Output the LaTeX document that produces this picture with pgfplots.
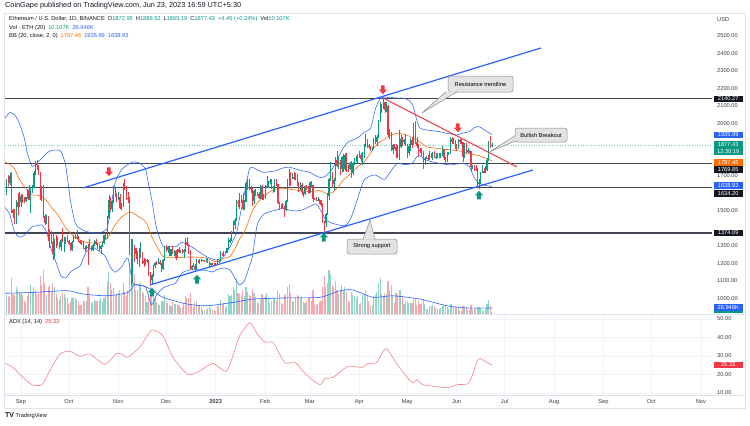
\documentclass[border=0pt]{standalone}
\usepackage{fontspec}
\setmainfont{Liberation Sans}
\usepackage{pgfplots}
\pgfplotsset{compat=1.18}
\usepackage{pgfplotstable}
\usepgfplotslibrary{fillbetween}

\definecolor{upc}{HTML}{089981}
\definecolor{dnc}{HTML}{F23645}
\definecolor{volup}{HTML}{92D3C8}
\definecolor{voldn}{HTML}{F9A6AD}
\definecolor{bbc}{HTML}{2962FF}
\definecolor{bbfill}{HTML}{2196F3}
\definecolor{orc}{HTML}{FF6D00}
\definecolor{chc}{HTML}{2962FF}
\definecolor{hlc}{HTML}{434651}
\definecolor{gridc}{HTML}{F0F3FA}
\definecolor{framec}{HTML}{E0E3EB}
\definecolor{txtc}{HTML}{131722}
\definecolor{labc}{HTML}{3B3E47}
\definecolor{adxc}{HTML}{F7838B}
\definecolor{boxfill}{HTML}{E3E3E3}
\definecolor{boxdraw}{HTML}{8C8C8C}
\definecolor{blk}{HTML}{131722}

\newcommand\tvf{\fontsize{5.7bp}{6.7bp}\selectfont}

% day 0 = 1 Sep 2022
\pgfplotstableread{
d o h l c v
-9 1625 1680 1590 1662 85
-8 1662 1705 1640 1657 80
-7 1657 1714 1650 1697 75
-6 1697 1720 1490 1507 160
-5 1507 1513 1460 1491 90
-4 1491 1510 1425 1432 85
-3 1432 1565 1425 1553 120
-2 1553 1605 1475 1523 110
-1 1523 1610 1520 1553 100
0 1553 1595 1525 1586 95
1 1586 1598 1543 1577 85
2 1577 1580 1545 1556 60
3 1556 1580 1550 1577 55
4 1577 1625 1570 1617 80
5 1617 1650 1560 1562 100
6 1562 1635 1490 1630 130
7 1630 1650 1605 1636 95
8 1636 1730 1630 1717 120
9 1717 1785 1705 1776 110
10 1776 1790 1735 1761 90
11 1761 1765 1705 1716 95
12 1716 1720 1560 1575 170
13 1575 1645 1555 1636 130
14 1636 1650 1460 1472 200
15 1472 1480 1420 1432 140
16 1432 1475 1425 1469 85
17 1469 1470 1330 1335 120
18 1335 1395 1290 1378 130
19 1378 1385 1310 1324 100
20 1324 1375 1220 1253 140
21 1253 1340 1230 1328 120
22 1328 1360 1290 1317 90
23 1317 1350 1300 1316 70
24 1316 1320 1280 1295 65
25 1295 1340 1270 1335 80
26 1335 1400 1320 1330 95
27 1330 1350 1265 1337 90
28 1337 1350 1310 1335 75
29 1335 1365 1320 1328 70
30 1328 1332 1305 1311 45
31 1311 1318 1270 1276 55
32 1276 1330 1270 1323 70
33 1323 1365 1320 1362 75
34 1362 1378 1340 1351 70
35 1351 1390 1340 1352 65
36 1352 1358 1320 1330 60
37 1330 1335 1310 1316 40
38 1316 1330 1305 1322 40
39 1322 1330 1285 1291 60
40 1291 1300 1265 1280 60
41 1280 1305 1275 1296 60
42 1296 1310 1190 1288 120
43 1288 1340 1280 1297 85
44 1297 1300 1270 1274 50
45 1274 1310 1270 1307 55
46 1307 1335 1300 1331 65
47 1331 1340 1305 1310 60
48 1310 1315 1280 1286 60
49 1286 1310 1270 1283 60
50 1283 1305 1255 1299 70
51 1299 1320 1295 1315 55
52 1315 1365 1310 1363 70
53 1363 1370 1335 1344 80
54 1344 1470 1340 1460 150
55 1460 1590 1455 1565 190
56 1565 1580 1500 1513 140
57 1513 1560 1495 1555 110
58 1555 1640 1545 1619 115
59 1619 1630 1580 1588 85
60 1588 1600 1550 1572 90
61 1572 1610 1565 1578 95
62 1578 1595 1510 1519 110
63 1519 1545 1505 1531 85
64 1531 1660 1525 1645 140
65 1645 1680 1620 1627 100
66 1627 1640 1565 1573 85
67 1573 1610 1545 1568 110
68 1568 1580 1250 1334 230
69 1334 1340 1073 1100 290
70 1100 1340 1090 1299 240
71 1299 1305 1210 1287 180
72 1287 1290 1225 1256 110
73 1256 1270 1195 1221 110
74 1221 1290 1180 1244 140
75 1244 1325 1230 1252 130
76 1252 1265 1195 1216 100
77 1216 1230 1180 1201 95
78 1201 1225 1190 1212 80
79 1212 1225 1200 1218 55
80 1218 1220 1130 1142 90
81 1142 1150 1075 1107 120
82 1107 1138 1085 1135 100
83 1135 1190 1125 1184 85
84 1184 1210 1175 1205 70
85 1205 1215 1190 1200 55
86 1200 1230 1195 1206 45
87 1206 1220 1190 1196 40
88 1196 1200 1150 1168 60
89 1168 1225 1165 1217 60
90 1217 1300 1215 1295 85
91 1295 1305 1265 1275 60
92 1275 1300 1262 1295 50
93 1295 1300 1240 1242 40
94 1242 1285 1240 1280 35
95 1280 1300 1255 1260 55
96 1260 1275 1245 1271 45
97 1271 1275 1220 1232 45
98 1232 1285 1230 1281 45
99 1281 1295 1260 1264 40
100 1264 1275 1260 1265 25
101 1265 1285 1255 1263 30
102 1263 1280 1230 1275 50
103 1275 1345 1265 1320 80
104 1320 1352 1300 1307 70
105 1307 1310 1255 1266 70
106 1266 1275 1160 1167 95
107 1167 1190 1160 1187 45
108 1187 1200 1180 1186 30
109 1186 1195 1150 1167 55
110 1167 1225 1160 1217 60
111 1217 1220 1200 1210 40
112 1210 1225 1195 1218 35
113 1218 1225 1210 1219 30
114 1219 1222 1214 1220 18
115 1220 1222 1210 1218 18
116 1218 1230 1210 1226 20
117 1226 1230 1205 1212 25
118 1212 1215 1180 1189 30
119 1189 1205 1185 1200 25
120 1200 1203 1190 1199 20
121 1199 1203 1190 1196 18
122 1196 1202 1190 1200 15
123 1200 1223 1190 1214 35
124 1214 1220 1205 1213 35
125 1213 1270 1210 1256 65
126 1256 1262 1245 1251 45
127 1251 1272 1240 1269 50
128 1269 1270 1260 1264 25
129 1264 1290 1262 1288 35
130 1288 1345 1285 1320 90
131 1320 1345 1315 1336 80
132 1336 1385 1330 1384 85
133 1384 1440 1380 1417 120
134 1417 1460 1395 1451 110
135 1451 1565 1445 1551 160
136 1551 1560 1520 1550 95
137 1550 1600 1510 1577 90
138 1577 1590 1545 1565 85
139 1565 1605 1505 1513 110
140 1513 1560 1505 1553 80
141 1553 1665 1550 1662 120
142 1662 1680 1620 1628 100
143 1628 1680 1620 1632 85
144 1632 1640 1600 1629 80
145 1629 1630 1530 1556 110
146 1556 1620 1540 1613 95
147 1613 1625 1585 1603 75
148 1603 1610 1585 1598 55
149 1598 1610 1570 1573 50
150 1573 1650 1570 1644 65
151 1644 1650 1560 1567 90
152 1567 1595 1560 1586 70
153 1586 1650 1570 1641 85
154 1641 1700 1630 1643 95
155 1643 1670 1630 1665 70
156 1665 1680 1655 1671 50
157 1671 1680 1625 1631 60
158 1631 1640 1605 1615 65
159 1615 1680 1610 1673 70
160 1673 1680 1640 1651 60
161 1651 1655 1540 1544 110
162 1544 1550 1505 1514 95
163 1514 1540 1510 1539 50
164 1539 1545 1510 1515 45
165 1515 1530 1465 1506 85
166 1506 1565 1500 1556 90
167 1556 1680 1550 1674 120
168 1674 1742 1640 1694 135
169 1694 1725 1640 1690 95
170 1690 1715 1680 1691 60
171 1691 1720 1675 1681 55
172 1681 1715 1675 1702 75
173 1702 1710 1645 1659 85
174 1659 1665 1610 1642 80
175 1642 1665 1620 1650 70
176 1650 1660 1590 1608 80
177 1608 1610 1580 1595 55
178 1595 1645 1590 1640 50
179 1640 1650 1620 1634 60
180 1634 1645 1595 1605 70
181 1605 1665 1600 1663 75
182 1663 1670 1630 1647 60
183 1647 1650 1550 1568 110
184 1568 1575 1560 1566 45
185 1566 1580 1555 1564 40
186 1564 1580 1555 1565 45
187 1565 1570 1540 1562 55
188 1562 1565 1525 1533 60
189 1533 1545 1430 1438 120
190 1438 1445 1370 1429 170
191 1429 1490 1410 1480 120
192 1480 1600 1475 1586 140
193 1586 1690 1560 1681 200
194 1681 1780 1670 1706 180
195 1706 1720 1630 1656 130
196 1656 1690 1620 1677 120
197 1677 1810 1670 1791 150
198 1791 1840 1750 1758 110
199 1758 1810 1740 1780 90
200 1780 1790 1705 1737 110
201 1737 1815 1720 1807 130
202 1807 1825 1720 1738 110
203 1738 1830 1730 1818 120
204 1818 1830 1725 1751 100
205 1751 1760 1725 1742 60
206 1742 1780 1735 1775 55
207 1775 1785 1690 1714 100
208 1714 1780 1705 1773 85
209 1773 1800 1760 1793 80
210 1793 1815 1780 1795 70
211 1795 1825 1775 1822 80
212 1822 1840 1805 1821 45
213 1821 1830 1780 1794 50
214 1794 1835 1760 1810 85
215 1810 1880 1805 1870 85
216 1870 1940 1865 1907 110
217 1907 1910 1860 1872 80
218 1872 1880 1855 1864 60
219 1864 1870 1845 1850 35
220 1850 1865 1840 1858 40
221 1858 1915 1855 1909 80
222 1909 1935 1880 1892 85
223 1892 1935 1870 1920 100
224 1920 2020 1915 2011 140
225 2011 2120 2010 2099 160
226 2099 2110 2060 2092 90
227 2092 2140 2085 2123 80
228 2123 2125 2060 2075 95
229 2075 2120 2065 2100 90
230 2100 2105 1920 1936 150
231 1936 1970 1910 1943 110
232 1943 1950 1840 1849 130
233 1849 1880 1825 1874 80
234 1874 1880 1855 1865 50
235 1865 1885 1800 1841 95
236 1841 1875 1800 1863 90
237 1863 1965 1790 1867 110
238 1867 1935 1860 1909 110
239 1909 1920 1870 1892 80
240 1892 1910 1885 1905 45
241 1905 1940 1870 1876 60
242 1876 1880 1805 1831 57
243 1831 1880 1820 1869 48
244 1869 1915 1840 1906 51
245 1906 1920 1860 1877 48
246 1877 2000 1875 1993 66
247 1993 2016 1880 1893 66
248 1893 1925 1860 1872 42
249 1872 1880 1810 1849 60
250 1849 1860 1830 1846 45
251 1846 1860 1810 1838 51
252 1838 1845 1740 1795 66
253 1795 1810 1760 1799 45
254 1799 1815 1795 1803 24
255 1803 1820 1790 1799 24
256 1799 1840 1790 1820 36
257 1820 1830 1800 1822 36
258 1822 1835 1790 1824 39
259 1824 1840 1800 1802 36
260 1802 1830 1795 1810 27
261 1810 1830 1805 1818 21
262 1818 1830 1800 1804 21
263 1804 1830 1800 1818 27
264 1818 1870 1815 1853 36
265 1853 1855 1790 1801 42
266 1801 1810 1760 1788 42
267 1788 1835 1780 1828 33
268 1828 1835 1820 1829 21
269 1829 1920 1825 1909 45
270 1909 1925 1880 1892 45
271 1892 1915 1880 1901 33
272 1901 1905 1855 1874 33
273 1874 1880 1845 1862 30
274 1862 1910 1855 1906 28
275 1906 1910 1885 1892 15
276 1892 1915 1885 1893 15
277 1893 1895 1780 1810 38
278 1810 1890 1805 1883 35
279 1883 1890 1825 1834 30
280 1834 1860 1830 1846 20
281 1846 1850 1830 1840 18
282 1840 1845 1720 1751 40
283 1751 1765 1740 1752 20
284 1752 1760 1730 1742 23
285 1742 1765 1730 1741 23
286 1741 1745 1645 1652 33
287 1652 1680 1626 1665 33
288 1665 1725 1655 1718 28
289 1718 1765 1715 1729 20
290 1729 1745 1715 1719 15
291 1719 1755 1715 1736 23
292 1736 1800 1730 1789 45
293 1789 1900 1785 1891 65
294 1891 1928 1860 1873 35
295 1872.95 1889.52 1865.19 1877.43 10.1
}\candles

% Bollinger bands (20, close, 2)
\pgfplotstableread{
d up mid lo
-10 2030 1780 1520
-7 2062 1765 1480
-4 2050 1740 1380
-1 2000 1680 1350
2 1920 1640 1360
4 1830 1620 1380
7 1755 1592 1410
10 1775 1590 1415
13 1800 1582 1420
16 1830 1560 1380
19 1845 1520 1280
22 1848 1490 1205
25 1840 1450 1130
28 1760 1405 1117
31 1560 1375 1150
34 1430 1345 1170
37 1400 1334 1185
41 1382 1320 1267
45 1375 1317 1290
49 1373 1317 1270
52 1385 1330 1250
54 1400 1345 1220
56 1500 1370 1180
59 1660 1420 1150
63 1735 1465 1180
67 1765 1490 1230
70 1780 1489 1090
74 1775 1465 1075
78 1740 1440 1066
80 1650 1400 1010
82 1563 1351 963
85 1400 1300 1020
89 1300 1240 1060
93 1296 1235 1075
97 1296 1231 1089
101 1320 1235 1146
106 1300 1237 1163
111 1270 1235 1163
116 1240 1231 1160
120 1225 1215 1151
123 1220 1209 1165
127 1239 1230 1174
131 1296 1240 1163
135 1373 1300 1100
137 1460 1340 1077
140 1600 1380 1100
143 1734 1450 1180
145 1750 1500 1237
148 1735 1545 1420
152 1720 1580 1480
156 1725 1610 1496
160 1730 1625 1505
164 1745 1630 1515
168 1750 1625 1505
172 1740 1620 1500
176 1730 1615 1505
181 1720 1610 1525
185 1700 1615 1540
188 1690 1615 1500
191 1700 1600 1450
195 1740 1605 1430
199 1810 1640 1420
202 1860 1677 1415
205 1895 1700 1430
208 1905 1725 1489
212 1925 1760 1600
215 1950 1780 1677
219 1970 1830 1700
222 2080 1870 1705
225 2140 1895 1690
228 2150 1910 1680
232 2148 1935 1730
236 2145 1944 1773
240 2144 1938 1765
244 2125 1925 1768
246 2090 1915 1780
248 2020 1906 1810
250 1973 1895 1815
254 1963 1867 1791
258 1958 1860 1780
262 1953 1856 1772
266 1945 1852 1766
269 1940 1849 1763
273 1934 1845 1768
277 1945 1839 1773
281 1953 1828 1753
284 1975 1822 1690
287 1982 1815 1660
290 1965 1805 1648
295 1936 1787 1639
}\bb

% volume moving average (K)
\pgfplotstableread{
d vma
-10 93
7.5 97
28.8 105
38.8 90
53.9 82
67 97
71.4 132
79 120
89 75
104 45
116.5 37
132.8 52
145.4 67
164 72
187.3 75
200 105
208 108
220.6 75
233 82
250 67
267 37
279.4 27
295 27
}\vma

% ADX (14, 14)
\pgfplotstableread{
d adx
-10 26.2
-5 23.8
0.6 19
6.9 14.5
13.2 14.5
18 22
24.4 31
30.7 32.6
37 29.8
43.2 31
52.6 25.5
60.2 31.5
64 30.5
67 29.3
74.6 35
82 44
89 40.8
95.2 29.3
104.6 20
112.2 22
120.3 26
128.4 21.6
132.8 30
137.2 41.3
143.5 47.9
148 42
152.9 37.5
157.9 37.5
162 31
166 26
171.7 26.6
179.2 19.5
187.3 14.5
190.5 17.8
195.5 18.4
204.9 24.4
213.7 23.8
217.4 26
223 26.6
228.7 34
236.2 24.9
245 15.6
248 17.3
251.9 14.5
266.9 12.9
273.2 14.5
280 15
283 20
285.7 27
287.6 28.7
292 26.5
295 25.3
}\adx

\newcommand\darrow[2]{\begin{scope}[shift={(#1)}]\fill[#2] (-1.8,4.5) -- (1.8,4.5) -- (1.8,0.3) -- (4,0.3) -- (0,-4.2) -- (-4,0.3) -- (-1.8,0.3) -- cycle;\end{scope}}
\newcommand\uarrow[2]{\begin{scope}[shift={(#1)}]\fill[#2] (-1.8,-4.5) -- (1.8,-4.5) -- (1.8,-0.3) -- (4,-0.3) -- (0,4.2) -- (-4,-0.3) -- (-1.8,-0.3) -- cycle;\end{scope}}
\newcommand\pbox[3]{\fill[#2] (714,#1-3.4) rectangle (742.5,#1+3.4); \node[font=\tvf,text=white,inner sep=0pt] at (728.2,#1) {#3};}

\begin{document}
\begin{tikzpicture}[x=1bp,y=1bp]
\fill[white] (0,0) rectangle (750,425);

% ---------- volume (overlay, behind prices)
\begin{axis}[at={(5bp,111bp)},anchor=south west,scale only axis,width=707bp,height=301bp,
  xmin=-10,xmax=433,ymin=0,ymax=1354.5,hide axis]
\addplot[volup,line width=1.1bp,mark=none,quiver={u=0,v={(1-(\thisrow{o}>\thisrow{c}))*\thisrow{v}}}] table[x=d,y expr=0]{\candles};
\addplot[voldn,line width=1.1bp,mark=none,quiver={u=0,v={(\thisrow{o}>\thisrow{c})*\thisrow{v}}}] table[x=d,y expr=0]{\candles};
\addplot[bbc,line width=0.6bp,mark=none,smooth,tension=0.4] table[x=d,y=vma]{\vma};
\end{axis}

% ---------- price panel
\begin{axis}[at={(5bp,111bp)},anchor=south west,scale only axis,width=707bp,height=301bp,
  xmin=-10,xmax=433,ymin=911,ymax=2631,
  axis line style={draw=none},tick style={draw=none},major tick length=0pt,
  xtick={0,30,61,91,122,153,181,212,242,273,303,334,365,395,426},
  xticklabels={,,,,,,,,,,,,,,},
  ytick={1000,1100,1200,1300,1400,1500,1600,1700,1800,1900,2000,2100,2200,2300,2400,2500,2600},
  yticklabels={1000.00,1100.00,1200.00,1300.00,,1500.00,,1700.00,,,2000.00,2100.00,2200.00,2300.00,2400.00,2500.00,},
  yticklabel pos=right,
  yticklabel style={font=\tvf,text=labc,anchor=west,inner sep=0pt,xshift=5bp},
  grid=major,major grid style={draw=gridc,line width=0.6bp}]
\addplot[name path=bbu,draw=none,mark=none,smooth,tension=0.4] table[x=d,y=up]{\bb};
\addplot[name path=bbl,draw=none,mark=none,smooth,tension=0.4] table[x=d,y=lo]{\bb};
\addplot[fill=bbfill,fill opacity=0.09,draw=none] fill between[of=bbu and bbl];
\addplot[hlc,line width=1.1bp,mark=none] coordinates {(-10,2140.27) (433,2140.27)};
\addplot[hlc,line width=1.1bp,mark=none] coordinates {(-10,1769.85) (433,1769.85)};
\addplot[hlc,line width=1.1bp,mark=none] coordinates {(-10,1634.20) (433,1634.20)};
\addplot[hlc,line width=1.1bp,mark=none] coordinates {(-10,1374.09) (433,1374.09)};
\addplot[upc!55,dotted,line width=0.6bp,mark=none] coordinates {(-10,1877.43) (433,1877.43)};
\addplot[bbc,line width=0.55bp,mark=none,smooth,tension=0.4] table[x=d,y=up]{\bb};
\addplot[bbc,line width=0.55bp,mark=none,smooth,tension=0.4] table[x=d,y=lo]{\bb};
\addplot[orc,line width=0.6bp,mark=none,smooth,tension=0.4] table[x=d,y=mid]{\bb};
% candles: wicks
\addplot[upc,line width=0.45bp,mark=none,quiver={u=0,v={(1-(\thisrow{o}>\thisrow{c}))*(\thisrow{h}-\thisrow{l})}}] table[x=d,y=l]{\candles};
\addplot[dnc,line width=0.45bp,mark=none,quiver={u=0,v={(\thisrow{o}>\thisrow{c})*(\thisrow{h}-\thisrow{l})}}] table[x=d,y=l]{\candles};
% candles: bodies
\addplot[upc,line width=1.1bp,mark=none,quiver={u=0,v={max(\thisrow{c}-\thisrow{o},0)}}] table[x=d,y=o]{\candles};
\addplot[dnc,line width=1.1bp,mark=none,quiver={u=0,v={min(\thisrow{c}-\thisrow{o},0)}}] table[x=d,y=o]{\candles};
% channel and trendline
\addplot[chc,line width=1.2bp,mark=none] coordinates {(38.8,1631) (325.8,2431)};
\addplot[chc,line width=1.2bp,mark=none] coordinates {(80.8,1077) (320.8,1734)};
\addplot[dnc,line width=1bp,mark=none] coordinates {(226.8,2145.7) (310.8,1751.4)};
\coordinate (r1) at (axis cs:55.1,1723);
\coordinate (r2) at (axis cs:226.8,2191);
\coordinate (r3) at (axis cs:273.8,1974);
\coordinate (g1) at (axis cs:82.1,1037);
\coordinate (g2) at (axis cs:110.3,1111);
\coordinate (g3) at (axis cs:189.8,1351);
\coordinate (g4) at (axis cs:287,1591);
\end{axis}

% ---------- ADX panel
\begin{axis}[at={(5bp,29bp)},anchor=south west,scale only axis,width=707bp,height=81bp,
  xmin=-10,xmax=433,ymin=8.38,ymax=52.16,
  axis line style={draw=none},tick style={draw=none},major tick length=0pt,
  xtick={0,30,61,91,122,153,181,212,242,273,303,334,365,395,426},
  xticklabels={Sep,Oct,Nov,Dec,\textbf{2023},Feb,Mar,Apr,May,Jun,Jul,Aug,Sep,Oct,Nov},
  xticklabel style={font=\tvf,text=labc,anchor=north,inner sep=0pt,yshift=-3bp},
  ytick={10,20,30,40,50},yticklabels={10.00,20.00,30.00,40.00,50.00},
  yticklabel pos=right,
  yticklabel style={font=\tvf,text=labc,anchor=west,inner sep=0pt,xshift=5bp},
  grid=major,major grid style={draw=gridc,line width=0.6bp}]
\addplot[adxc,line width=0.6bp,mark=none,smooth,tension=0.4] table[x=d,y=adx]{\adx};
\end{axis}

% ---------- frame
\draw[framec,line width=0.6bp] (4.5,17) rectangle (745,412);
\draw[framec,line width=0.6bp] (4.5,110.5) -- (745,110.5);
\draw[framec,line width=0.6bp] (4.5,30) -- (745,30);

% ---------- arrows
\darrow{r1}{dnc}\darrow{r2}{dnc}\darrow{r3}{dnc}
\uarrow{g1}{upc}\uarrow{g2}{upc}\uarrow{g3}{upc}\uarrow{g4}{upc}

% ---------- callouts
\filldraw[fill=boxfill,draw=boxdraw,line width=0.5bp,rounded corners=2.5bp] (448,333) rectangle (513,349);
\fill[boxfill] (422,312) -- (446,333.6) -- (457,333.6) -- cycle;
\draw[boxdraw,line width=0.5bp] (446,333.3) -- (422,312) -- (457,333.3);
\node[font=\tvf,text=black] at (480.5,341) {Resistance trendline};

\filldraw[fill=boxfill,draw=boxdraw,line width=0.5bp,rounded corners=2.5bp] (515,283) rectangle (567,297);
\fill[boxfill] (490,273.3) -- (515.6,284) -- (515.6,289.5) -- cycle;
\draw[boxdraw,line width=0.5bp] (515.3,289.5) -- (490,273.3) -- (515.3,284);
\node[font=\tvf,text=black] at (541,290) {Bullish Breakout};

\filldraw[fill=boxfill,draw=boxdraw,line width=0.5bp,rounded corners=2.5bp] (347,171) rectangle (397,186);
\fill[boxfill] (370,205) -- (363,185.4) -- (375,185.4) -- cycle;
\draw[boxdraw,line width=0.5bp] (363,185.7) -- (370,205) -- (375,185.7);
\node[font=\tvf,text=black] at (372,178.5) {Strong support};

% ---------- right scale labels
\node[font=\tvf,text=labc,anchor=west,inner sep=0pt] at (717,405) {USD};
\pbox{326}{blk}{2140.27}
\pbox{290}{bbc}{1935.99}
\fill[upc] (714,270.5) rectangle (742.5,284);
\node[font=\tvf,text=white,inner sep=0pt] at (728.2,280.3) {1877.43};
\node[font=\tvf,text=white,inner sep=0pt] at (728.2,273.8) {12:30:19};
\pbox{262.5}{orc}{1787.46}
\pbox{255.5}{blk}{1769.85}
\pbox{239.3}{bbc}{1638.93}
\pbox{231.3}{blk}{1634.20}
\pbox{192}{blk}{1374.09}
\pbox{117.3}{bbc}{26.946K}
\fill[upc] (714,112) rectangle (742.5,113.6);
\pbox{60}{dnc}{25.33}

% ---------- texts
\node[anchor=west,inner sep=0pt,font=\fontsize{7.3bp}{8.3bp}\selectfont,text=txtc] at (5,419) {CoinGape published on TradingView.com, Jun 23, 2023 16:59 UTC+5:30};
\node[anchor=west,inner sep=0pt,font=\tvf,text=txtc] at (9,405.7) {Ethereum / U.S. Dollar, 1D, BINANCE\hspace{3bp}O\textcolor{upc}{1872.95}\hspace{3bp}H\textcolor{upc}{1889.52}\hspace{3bp}L\textcolor{upc}{1865.19}\hspace{3bp}C\textcolor{upc}{1877.43}\hspace{3bp}\textcolor{upc}{+4.45 (+0.24\%)}\hspace{3bp}Vol\textcolor{upc}{10.107K}};
\node[anchor=west,inner sep=0pt,font=\tvf,text=txtc] at (9,397.3) {Vol · ETH (20)\hspace{3bp}\textcolor{upc}{10.107K}\hspace{3bp}\textcolor{bbc}{26.946K}};
\node[anchor=west,inner sep=0pt,font=\tvf,text=txtc] at (9,389) {BB (20, close, 2, 0)\hspace{3bp}\textcolor{orc}{1787.46}\hspace{3bp}\textcolor{bbc}{1935.99}\hspace{3bp}\textcolor{bbc}{1638.93}};
\node[anchor=west,inner sep=0pt,font=\tvf,text=txtc] at (9,103) {ADX (14, 14)\hspace{3bp}\textcolor{dnc}{25.33}};
\node[anchor=west,inner sep=0pt,font=\tvf,text=txtc] at (5,9) {{\fontsize{7bp}{8bp}\selectfont\bfseries TV}\hspace{1.5bp}TradingView};

\pgfresetboundingbox
\path (0,0) rectangle (750,425);
\end{tikzpicture}
\end{document}
